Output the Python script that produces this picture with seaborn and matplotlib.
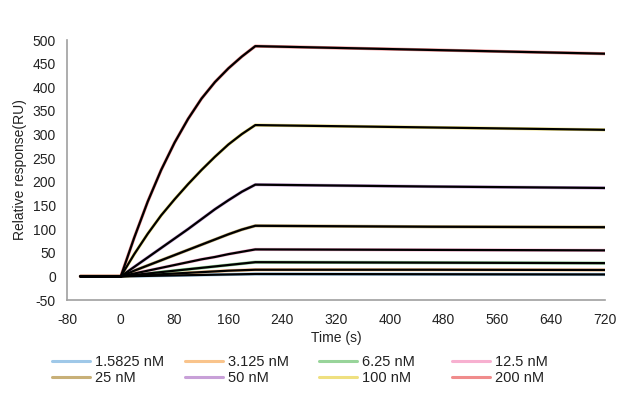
import matplotlib
matplotlib.use("Agg")
import matplotlib.pyplot as plt
import seaborn as sns
import pandas as pd
from matplotlib.lines import Line2D

sns.set_theme(style="white")
plt.rcParams['font.family'] = ['Liberation Sans', 'DejaVu Sans']

# ---- data ----
times = [-60, 0, 20, 40, 60, 80, 100, 120, 140, 160, 180, 200, 460, 720]

conc_labels = ["1.5825 nM", "3.125 nM", "6.25 nM", "12.5 nM",
               "25 nM", "50 nM", "100 nM", "200 nM"]
colors = ["#9fc8e8", "#f9c48c", "#98d49a", "#f7b0d0",
          "#c8b078", "#c8a0d8", "#efe080", "#f08c8c"]

resp_1_5825 = [0, 0, 0.5, 1, 1.5, 2, 2.5, 3, 3.5, 4, 4.5, 5, 4.5, 4]
resp_3_125 = [0, 0, 1.5, 3, 4.5, 6, 7.5, 9, 10.5, 12, 13, 14, 14, 13.5]
resp_6_25 = [0, 0, 3, 6, 9, 12, 15, 18, 21, 24, 27, 30, 29, 28]
resp_12_5 = [0, 0, 6, 12, 18, 24, 30, 36, 41, 47, 52, 57, 56, 55]
resp_25 = [0, 0, 12, 23, 34, 45, 56, 67, 78, 89, 99, 107, 105, 104]
resp_50 = [0, 0, 20, 40, 60, 80, 100, 121, 142, 161, 179, 194, 190, 187]
resp_100 = [0, 0, 47, 90, 129, 163, 195, 225, 253, 279, 301, 320, 315, 310]
resp_200 = [0, 0, 82, 158, 225, 283, 333, 376, 411, 440, 465, 487, 479, 471]

series = [resp_1_5825, resp_3_125, resp_6_25, resp_12_5,
          resp_25, resp_50, resp_100, resp_200]

xticks = [-80, 0, 80, 160, 240, 320, 400, 480, 560, 640, 720]
yticks = [-50, 0, 50, 100, 150, 200, 250, 300, 350, 400, 450, 500]

rows = []
for lab, vals in zip(conc_labels, series):
    for t, v in zip(times, vals):
        rows.append({"Time": t, "Response": v, "Conc": lab})
df = pd.DataFrame(rows)

fig = plt.figure(figsize=(6.21, 4.0), dpi=100)
ax = fig.add_axes([0.1079, 0.25, 0.8663, 0.65])

# measured (coloured) curves
sns.lineplot(data=df, x="Time", y="Response", hue="Conc", hue_order=conc_labels,
             palette=colors, estimator=None, sort=False, linewidth=2.3,
             legend=False, ax=ax)
# fitted (black) curves
sns.lineplot(data=df, x="Time", y="Response", units="Conc", estimator=None,
             sort=False, color="black", linewidth=1.6, legend=False, ax=ax)

ax.set_xlim(-80, 720)
ax.set_ylim(-50, 500)
ax.set_xticks(xticks)
ax.set_yticks(yticks)
ax.set_xticklabels([str(v) for v in xticks])
ax.set_yticklabels([str(v) for v in yticks])
ax.set_xlabel("Time (s)", fontsize=10, color="#222222", labelpad=3)
ax.set_ylabel("Relative response(RU)", fontsize=10, color="#222222", labelpad=4)

for side in ["top", "right"]:
    ax.spines[side].set_visible(False)
for side in ["left", "bottom"]:
    ax.spines[side].set_color("#a0a0a0")
    ax.spines[side].set_linewidth(1.2)
ax.tick_params(axis="both", which="major", direction="out", length=5, width=1.2,
               color="#a0a0a0", labelsize=10, labelcolor="#222222", pad=3)
ax.tick_params(axis="x", length=6)

# legend: four equal-width columns
col_x = [54, 187, 321, 454]
for ci in range(4):
    handles = []
    labs = []
    for ri in range(2):
        k = ri * 4 + ci
        handles.append(Line2D([0], [0], color=colors[k], linewidth=2.2))
        labs.append(conc_labels[k])
    fig.legend(handles, labs, loc="upper left",
               bbox_to_anchor=((col_x[ci] - 6) / 621.0, 1 - 351 / 400.0),
               frameon=False, fontsize=10.5, handlelength=2.6, handletextpad=0.3,
               labelspacing=0.12, borderaxespad=0, borderpad=0.3,
               labelcolor="#222222")

fig.savefig("out.png", dpi=100)
